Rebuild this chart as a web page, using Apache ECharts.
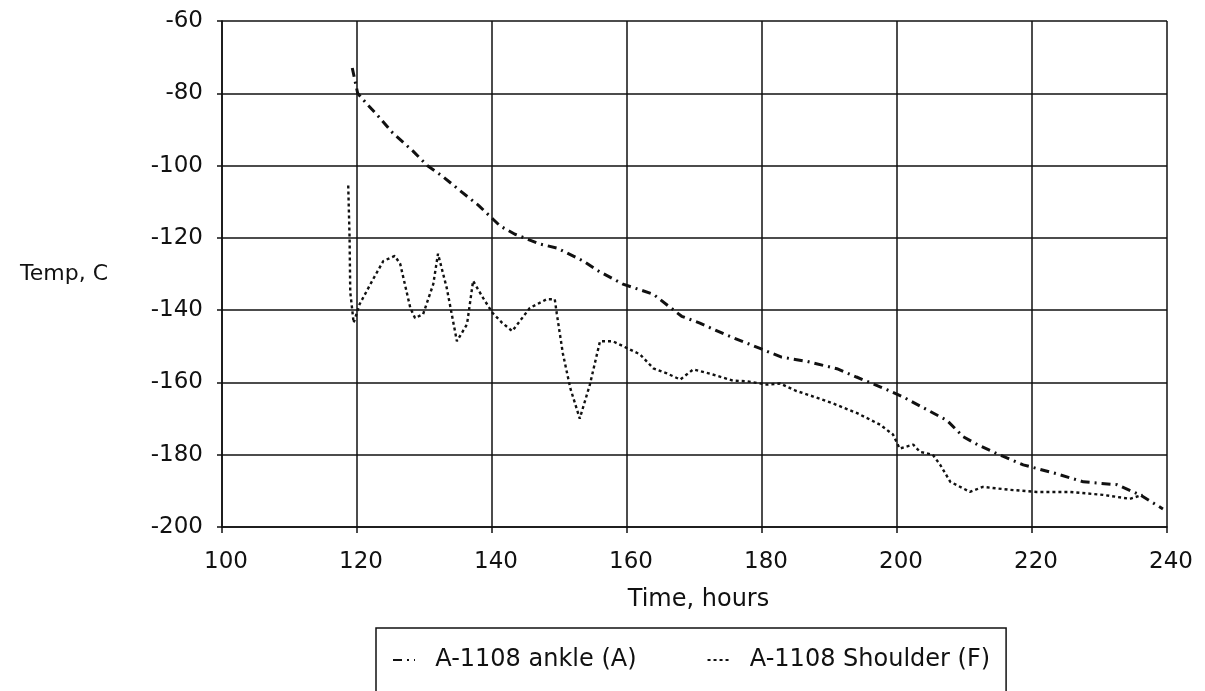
<!DOCTYPE html>
<html>
<head>
<meta charset="utf-8">
<script src="https://cdn.jsdelivr.net/npm/echarts@6/dist/echarts.min.js"></script>
<style>
  html, body { margin: 0; padding: 0; background: #fff; }
  #chart { width: 1205px; height: 691px; }
</style>
</head>
<body>
<div id="chart"></div>
<script>
// Temperature history of sensor A-1108, [hours, deg C]
const ankleA = [
  [119.3, -73], [120.1, -80], [121.5, -83], [123, -86], [125.3, -91],
  [128.3, -96], [130.4, -100], [132.7, -103], [135.3, -107], [138, -111],
  [141.2, -116.7], [143.4, -119], [147.1, -121.7], [149.6, -122.8],
  [153.5, -126.4], [155.6, -129], [159.4, -132.8], [163.9, -135.6],
  [168.1, -141.7], [170.8, -143.6], [174.5, -146.7], [179.7, -150.6],
  [182.9, -153], [186.7, -154.2], [191.1, -156.2], [194, -158.5],
  [198.5, -162], [200.9, -164], [204.9, -168], [207.4, -170.5],
  [209.8, -175], [211.9, -177.2], [214.8, -179.7], [218.7, -182.8],
  [223.7, -185.3], [227.6, -187.5], [232.6, -188.3], [236, -191.1],
  [239.4, -195]
];

const shoulderF = [
  [118.7, -105.5], [118.9, -120], [119, -135], [119.3, -140], [119.5, -143.5],
  [120.4, -138.3], [122.4, -131.4], [123.9, -126.4], [125.6, -125],
  [126.4, -127.2], [127.9, -139.4], [128.6, -142.2], [129.8, -141.1],
  [131.3, -132.8], [132, -124.4], [133.3, -133.9], [134.8, -148.6],
  [136.3, -143.9], [137.2, -131.9], [138.7, -136.7], [140.1, -140.8],
  [141.5, -143.5], [143, -145.8], [145.6, -139.4], [148.1, -137],
  [149.3, -137], [149.6, -141], [150.5, -152], [151.6, -161.6], [153, -170],
  [154.5, -160.6], [156, -148.6], [157.9, -148.6], [160, -150.5],
  [161.9, -152.2], [163.9, -156.1], [165.9, -157.5], [167.9, -159.2],
  [169.8, -156.4], [172.7, -157.8], [175.7, -159.5], [177.8, -159.7],
  [180.7, -160.6], [182.7, -160.3], [185, -162.3], [187.6, -163.9],
  [190.5, -165.8], [194.1, -168.5], [197.5, -171.7], [199.4, -174.4],
  [200.4, -178.3], [202.4, -177.2], [203.4, -179.2], [205.3, -180],
  [206.4, -182.8], [207.9, -187.5], [210.8, -190.3], [212.7, -188.9],
  [216.7, -189.7], [220.7, -190.3], [225.6, -190.3], [230.5, -191.1],
  [234.5, -192.2], [236.4, -191.1]
];

const seriesNames = ['A-1108 ankle (A)', 'A-1108 Shoulder (F)'];
const xRange = [100, 240, 20];   // min, max, step (hours)
const yRange = [-200, -60, 20];  // min, max, step (deg C)

const FONT = 'DejaVu Sans';
const INK = '#111';

const chart = echarts.init(document.getElementById('chart'), null, { renderer: 'canvas' });

chart.setOption({
  backgroundColor: '#fff',
  animation: false,
  grid: { left: 222, right: 38, top: 21, bottom: 164, containLabel: false },
  xAxis: {
    type: 'value',
    min: xRange[0], max: xRange[1], interval: xRange[2],
    name: 'Time, hours',
    nameLocation: 'middle',
    nameGap: 61,
    nameTextStyle: { fontFamily: FONT, fontSize: 24, color: INK, padding: [0, 0, 0, 8] },
    axisLine: { show: true, lineStyle: { color: INK, width: 1.5 } },
    axisTick: { show: true, inside: false, length: 6, lineStyle: { color: INK, width: 1.5 } },
    axisLabel: { fontFamily: FONT, fontSize: 23, color: INK, margin: 24, padding: [0, 0, 0, 8] },
    splitLine: { show: true, lineStyle: { color: INK, width: 1.5 } }
  },
  yAxis: {
    type: 'value',
    min: yRange[0], max: yRange[1], interval: yRange[2],
    name: 'Temp, C',
    nameLocation: 'middle',
    nameRotate: 0,
    nameGap: 114,
    nameTextStyle: { fontFamily: FONT, fontSize: 22, color: INK, align: 'right' },
    axisLine: { show: true, lineStyle: { color: INK, width: 1.5 } },
    axisTick: { show: true, inside: false, length: 5, lineStyle: { color: INK, width: 1.5 } },
    axisLabel: { fontFamily: FONT, fontSize: 23, color: INK, margin: 19 },
    splitLine: { show: true, lineStyle: { color: INK, width: 1.5 } }
  },
  legend: {
    left: 376,
    top: 628,
    orient: 'horizontal',
    itemGap: 70,
    itemWidth: 22,
    itemHeight: 10,
    padding: [20, 16, 40, 16],
    borderColor: INK,
    borderWidth: 1.5,
    backgroundColor: '#fff',
    itemStyle: { opacity: 0 },
    formatter: function (name) { return '  ' + name; },
    textStyle: { fontFamily: FONT, fontSize: 24, color: INK },
    data: seriesNames
  },
  series: [
    {
      name: seriesNames[0],
      type: 'line',
      data: ankleA,
      showSymbol: false,
      symbol: 'none',
      smooth: false,
      color: INK,
      lineStyle: { color: INK, width: 3, type: [9, 5, 2, 5] }
    },
    {
      name: seriesNames[1],
      type: 'line',
      data: shoulderF,
      showSymbol: false,
      symbol: 'none',
      smooth: false,
      color: INK,
      lineStyle: { color: INK, width: 2.4, type: [3, 3] }
    }
  ]
});
</script>
</body>
</html>
